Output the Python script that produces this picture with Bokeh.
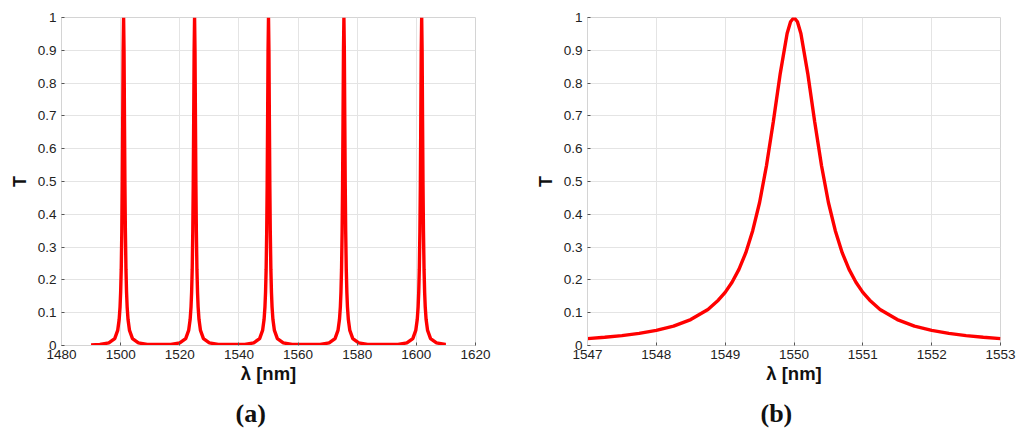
from bokeh.plotting import figure
from bokeh.layouts import row
from bokeh.models import Range1d, FixedTicker, CustomJSTickFormatter, Title
from bokeh.embed import file_html
from bokeh.resources import INLINE

# ---------------- data ----------------
# panel (a): transmission over the full band (five resonances)
lam_peak1 = [1493.0, 1496.0, 1498.0, 1499.0, 1499.5, 1499.8, 1500.0, 1500.2, 1500.4, 1500.55, 1500.7, 1500.85,
             1501.0, 1501.15, 1501.3, 1501.45, 1501.6, 1501.8, 1502.0, 1502.2, 1502.5, 1503.0, 1504.0, 1506.0, 1509.0]
lam_peak2 = [1517.0, 1520.0, 1522.0, 1523.0, 1523.5, 1523.8, 1524.0, 1524.2, 1524.4, 1524.55, 1524.7, 1524.85,
             1525.0, 1525.15, 1525.3, 1525.45, 1525.6, 1525.8, 1526.0, 1526.2, 1526.5, 1527.0, 1528.0, 1530.0, 1533.0]
lam_peak3 = [1542.0, 1545.0, 1547.0, 1548.0, 1548.5, 1548.8, 1549.0, 1549.2, 1549.4, 1549.55, 1549.7, 1549.85,
             1550.0, 1550.15, 1550.3, 1550.45, 1550.6, 1550.8, 1551.0, 1551.2, 1551.5, 1552.0, 1553.0, 1555.0, 1558.0]
lam_peak4 = [1567.5, 1570.5, 1572.5, 1573.5, 1574.0, 1574.3, 1574.5, 1574.7, 1574.9, 1575.05, 1575.2, 1575.35,
             1575.5, 1575.65, 1575.8, 1575.95, 1576.1, 1576.3, 1576.5, 1576.7, 1577.0, 1577.5, 1578.5, 1580.5, 1583.5]
lam_peak5 = [1593.8, 1596.8, 1598.8, 1599.8, 1600.3, 1600.6, 1600.8, 1601.0, 1601.2, 1601.35, 1601.5, 1601.65,
             1601.8, 1601.95, 1602.1, 1602.25, 1602.4, 1602.6, 1602.8, 1603.0, 1603.3, 1603.8, 1604.8, 1606.8, 1609.8]
T_peak = [0.003, 0.008, 0.021, 0.046, 0.079, 0.118, 0.162, 0.232, 0.350, 0.489, 0.683, 0.896,
          1.000, 0.896, 0.683, 0.489, 0.350, 0.232, 0.162, 0.118, 0.079, 0.046, 0.021, 0.008, 0.003]
lam_start, T_start = 1490.0, 0.002
lam_end, T_end = 1610.0, 0.003

# panel (b): zoom on the 1550 nm resonance
lam_b = [1547.0, 1547.25, 1547.5, 1547.75, 1548.0, 1548.25, 1548.5, 1548.75, 1548.9, 1549.0, 1549.1, 1549.2,
         1549.3, 1549.4, 1549.5, 1549.6, 1549.7, 1549.8, 1549.9, 1549.95, 1550.0, 1550.05, 1550.1, 1550.2,
         1550.3, 1550.4, 1550.5, 1550.6, 1550.7, 1550.8, 1550.9, 1551.0, 1551.1, 1551.25, 1551.5, 1551.75,
         1552.0, 1552.25, 1552.5, 1552.75, 1553.0]
T_b = [0.021, 0.025, 0.030, 0.037, 0.046, 0.059, 0.079, 0.110, 0.138, 0.162, 0.193, 0.232,
       0.283, 0.350, 0.436, 0.548, 0.683, 0.829, 0.951, 0.987, 1.000, 0.987, 0.951, 0.829,
       0.683, 0.548, 0.436, 0.350, 0.283, 0.232, 0.193, 0.162, 0.138, 0.110, 0.079, 0.059,
       0.046, 0.037, 0.030, 0.025, 0.021]

xticks_a = [1480, 1500, 1520, 1540, 1560, 1580, 1600, 1620]
xticks_b = [1547, 1548, 1549, 1550, 1551, 1552, 1553]
yticks = [0.0, 0.1, 0.2, 0.3, 0.4, 0.5, 0.6, 0.7, 0.8, 0.9, 1.0]

lam_a = [lam_start] + lam_peak1 + lam_peak2 + lam_peak3 + lam_peak4 + lam_peak5 + [lam_end]
T_a = [T_start] + T_peak * 5 + [T_end]

# ---------------- styling ----------------
FONT = "Liberation Sans"
GRID = "#e4e4e4"
BOX = "#d4d4d4"
TICKC = "#555555"

yfmt_code = "return String(Math.round(tick*10)/10);"


def make_fig(xr, xticks, bl, br, caption, cap_offset):
    p = figure(width=512, height=437, output_backend="svg", toolbar_location=None,
               x_range=Range1d(*xr), y_range=Range1d(0, 1),
               min_border_left=bl, min_border_right=br, min_border_top=17, min_border_bottom=92,
               background_fill_color="white", border_fill_color="white")
    p.outline_line_color = BOX
    p.xaxis.ticker = FixedTicker(ticks=xticks)
    p.yaxis.ticker = FixedTicker(ticks=yticks)
    p.yaxis.formatter = CustomJSTickFormatter(code=yfmt_code)
    for ax in (p.xaxis, p.yaxis):
        ax.axis_line_color = BOX
        ax.major_tick_in = 3
        ax.major_tick_out = 0
        ax.minor_tick_line_color = None
        ax.major_tick_line_color = TICKC
        ax.major_label_text_font = FONT
        ax.major_label_text_font_size = "13.5px"
        ax.major_label_text_color = "#222222"
        ax.axis_label_text_font = FONT
        ax.axis_label_text_font_style = "bold"
        ax.axis_label_text_color = "#111111"
    p.xaxis.major_label_standoff = 4
    p.yaxis.major_label_standoff = 5
    p.xaxis.axis_label = "λ [nm]"
    p.xaxis.axis_label_text_font_size = "18.5px"
    p.xaxis.axis_label_standoff = 1
    p.yaxis.axis_label = "T"
    p.yaxis.axis_label_text_font_size = "18px"
    p.yaxis.axis_label_standoff = 5
    p.xgrid.grid_line_color = GRID
    p.ygrid.grid_line_color = GRID
    p.xgrid.ticker = FixedTicker(ticks=xticks)
    p.ygrid.ticker = FixedTicker(ticks=yticks)

    cap = Title(text=caption, align="left", text_font="Liberation Serif", text_font_style="bold",
                text_font_size="26px", text_color="#111111", offset=cap_offset, standoff=20)
    p.add_layout(cap, "below")
    return p


pa = make_fig((1480, 1620), xticks_a, 61, 37, "(a)", 174)
pa.line(lam_a, T_a, line_color="#ff0000", line_width=3.4)

pb = make_fig((1547, 1553), xticks_b, 75, 24, "(b)", 173)
pb.line(lam_b, T_b, line_color="#ff0000", line_width=3.4)

layout = row(pa, pb)
open("out.html", "w").write(file_html(layout, INLINE))
